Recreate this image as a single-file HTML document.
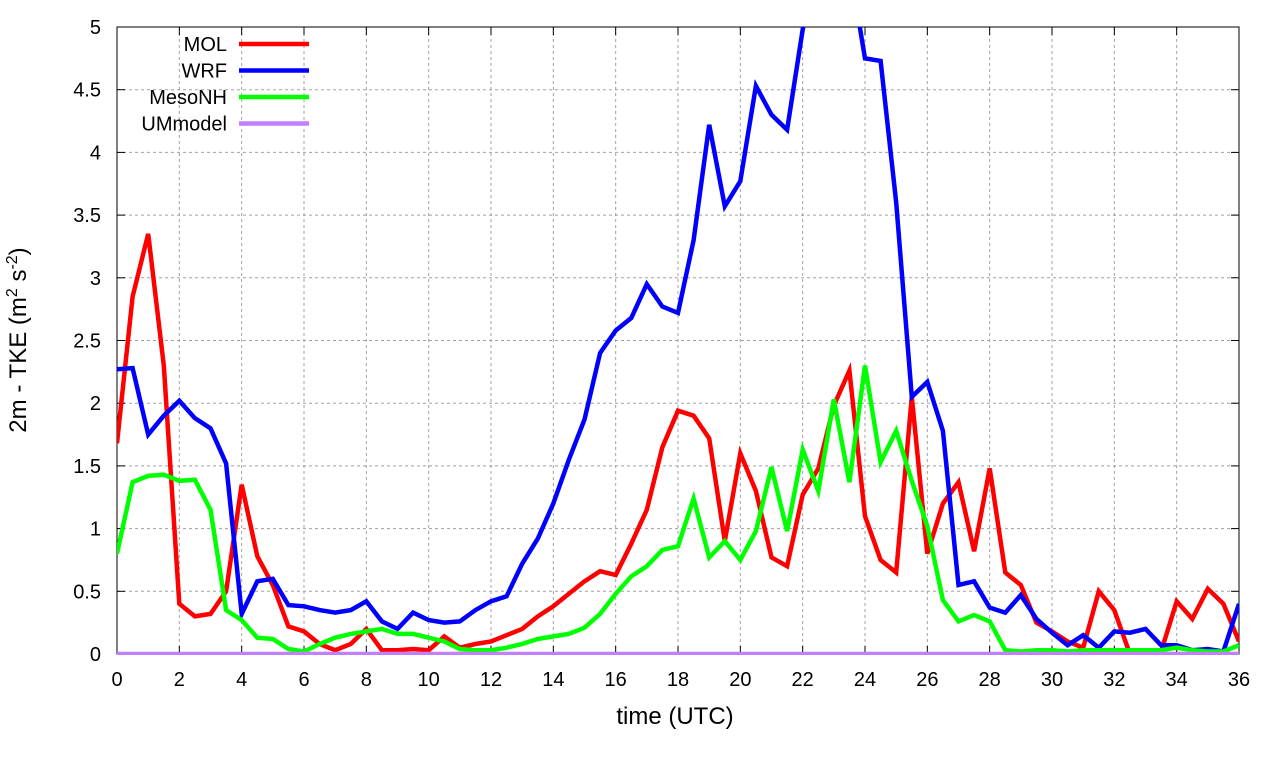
<!DOCTYPE html>
<html><head><meta charset="utf-8"><style>
body{margin:0;background:#fff;}
svg text{font-family:"Liberation Sans",sans-serif;fill:#000;}
</style></head><body>
<svg id="chart" width="1280" height="760" xmlns="http://www.w3.org/2000/svg">
<defs><clipPath id="clip"><rect x="117" y="27" width="1122" height="628"/></clipPath></defs>
<g id="grid"></g>
<g id="axes"></g>
<g id="series" clip-path="url(#clip)"></g>
<g id="legend"></g>
<text x="675" y="724" font-size="24" text-anchor="middle">time (UTC)</text>
<text transform="translate(26,340) rotate(-90)" font-size="24" text-anchor="middle">2m - TKE (m<tspan font-size="16" dy="-9">2</tspan><tspan dy="9"> s</tspan><tspan font-size="16" dy="-9">-2</tspan><tspan dy="9">)</tspan></text>
</svg>
<script>
const xTicks=[0,2,4,6,8,10,12,14,16,18,20,22,24,26,28,30,32,34,36];
const yTicks=[0,0.5,1,1.5,2,2.5,3,3.5,4,4.5,5];
const seriesNames=["MOL","WRF","MesoNH","UMmodel"];
const seriesColors=["#ff0000","#0000ff","#00ff00","#c080ff"];
const MOL=[1.68,2.85,3.35,2.3,0.4,0.3,0.32,0.5,1.35,0.78,0.55,0.22,0.18,0.08,0.03,0.08,0.2,0.03,0.03,0.04,0.03,0.14,0.05,0.08,0.1,0.15,0.2,0.3,0.38,0.48,0.58,0.66,0.63,0.88,1.15,1.65,1.94,1.9,1.72,0.9,1.6,1.3,0.77,0.7,1.27,1.48,1.98,2.26,1.1,0.75,0.65,2.05,0.8,1.2,1.37,0.82,1.48,0.65,0.55,0.25,0.18,0.1,0.05,0.5,0.35,0.0,0.0,0.02,0.42,0.28,0.52,0.4,0.1];
const WRF=[2.27,2.28,1.75,1.9,2.02,1.88,1.8,1.52,0.32,0.58,0.6,0.39,0.38,0.35,0.33,0.35,0.42,0.26,0.2,0.33,0.27,0.25,0.26,0.35,0.42,0.46,0.72,0.92,1.2,1.55,1.87,2.4,2.58,2.68,2.95,2.77,2.72,3.3,4.22,3.57,3.77,4.53,4.3,4.18,4.98,5.6,5.8,5.5,4.75,4.73,3.6,2.05,2.17,1.78,0.55,0.58,0.37,0.33,0.47,0.28,0.17,0.07,0.15,0.05,0.18,0.17,0.2,0.07,0.07,0.03,0.04,0.02,0.4];
const MesoNH=[0.8,1.37,1.42,1.43,1.38,1.39,1.15,0.35,0.27,0.13,0.12,0.04,0.02,0.08,0.13,0.16,0.18,0.2,0.16,0.16,0.13,0.1,0.04,0.03,0.03,0.05,0.08,0.12,0.14,0.16,0.21,0.32,0.48,0.62,0.7,0.83,0.86,1.24,0.77,0.9,0.75,0.98,1.49,0.98,1.63,1.3,2.03,1.37,2.3,1.53,1.78,1.38,1.02,0.43,0.26,0.31,0.26,0.03,0.02,0.03,0.03,0.02,0.03,0.03,0.03,0.03,0.03,0.03,0.05,0.03,0.02,0.02,0.07];
const UMmodel=new Array(73).fill(0);
const allSeries=[MOL,WRF,MesoNH,UMmodel];
const NS="http://www.w3.org/2000/svg";
const X0=117,X1=1239,Y0=654,Y1=27;
const sx=t=>X0+(t/36)*(X1-X0);
const sy=v=>Y0-(v/5)*(Y0-Y1);
function mk(tag,attrs,parent){const e=document.createElementNS(NS,tag);for(const k in attrs)e.setAttribute(k,attrs[k]);parent.appendChild(e);return e;}
const grid=document.getElementById('grid'),axes=document.getElementById('axes'),ser=document.getElementById('series'),leg=document.getElementById('legend');
xTicks.forEach(t=>{
  const x=sx(t);
  if(t>0&&t<36){const l=mk('line',{x1:x,x2:x,y1:Y1,y2:Y0,stroke:'#a0a0a0','stroke-dasharray':'3,3','stroke-width':1},grid);
  
  }
  mk('line',{x1:x,x2:x,y1:Y0,y2:Y0-8,stroke:'#000'},axes);
  mk('line',{x1:x,x2:x,y1:Y1,y2:Y1+8,stroke:'#000'},axes);
  const tx=mk('text',{x:x,y:Y0+32,'font-size':20,'text-anchor':'middle'},axes);
  tx.textContent=t;
  
  
});
yTicks.forEach(v=>{
  const y=sy(v);
  if(v>0&&v<5){const l=mk('line',{x1:X0,x2:X1,y1:y,y2:y,stroke:'#a0a0a0','stroke-dasharray':'3,3','stroke-width':1},grid);
  
  }
  mk('line',{x1:X0,x2:X0+8,y1:y,y2:y,stroke:'#000'},axes);
  mk('line',{x1:X1,x2:X1-8,y1:y,y2:y,stroke:'#000'},axes);
  const tx=mk('text',{x:X0-16,y:y+7,'font-size':20,'text-anchor':'end'},axes);
  tx.textContent=v;
  
  
});
const fr=mk('rect',{x:X0,y:Y1,width:X1-X0,height:Y0-Y1,fill:'none',stroke:'#000','stroke-width':1},axes);


allSeries.forEach((d,i)=>{
  const pts=d.map((v,j)=>sx(j*0.5).toFixed(1)+','+sy(v).toFixed(1)).join(' ');
  const p=mk('polyline',{points:pts,fill:'none',stroke:seriesColors[i],'stroke-width':4.5,'stroke-linejoin':'miter'},ser);
  
  
  const ly=44+i*26.5;
  const lt=mk('text',{x:227,y:ly+7,'font-size':20,'text-anchor':'end'},leg);
  lt.textContent=seriesNames[i];
  
  
  const ll=mk('line',{x1:239,x2:309,y1:ly,y2:ly,stroke:seriesColors[i],'stroke-width':4.5},leg);
  
  
});
</script>
</body></html>
